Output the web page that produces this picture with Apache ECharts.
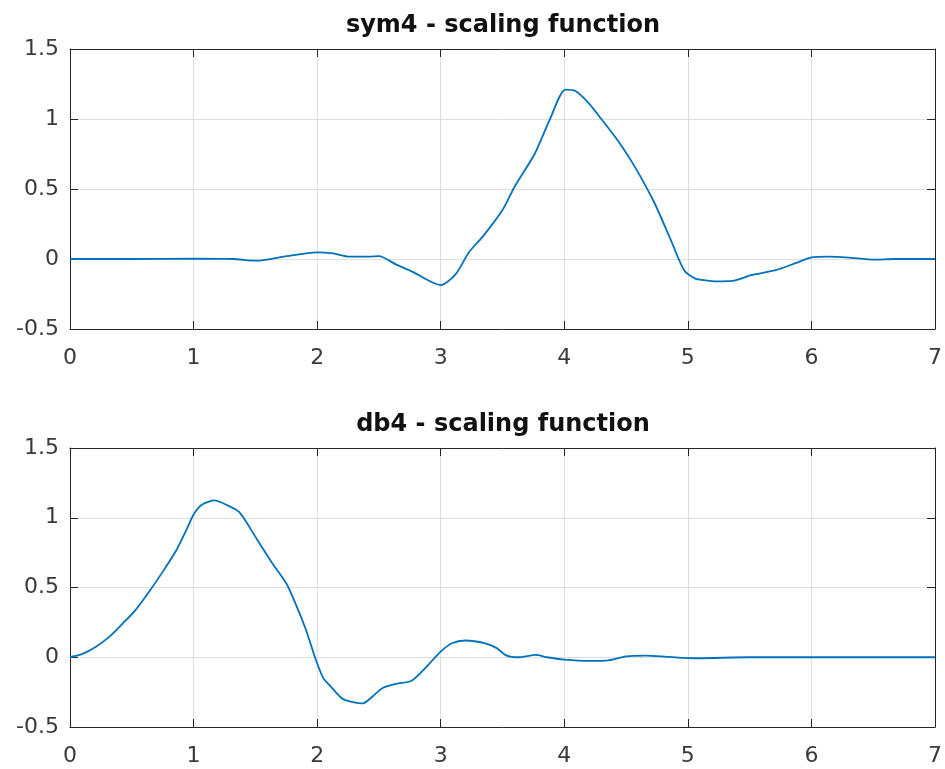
<!DOCTYPE html>
<html>
<head>
<meta charset="utf-8">
<script src="https://cdn.jsdelivr.net/npm/echarts@6/dist/echarts.min.js"></script>
<style>html,body{margin:0;padding:0;background:#fff;}#c{width:945px;height:769px;}</style>
</head>
<body>
<div id="c"></div>
<script>
var titles = ['sym4 - scaling function', 'db4 - scaling function'];
var xTicks = [0, 1, 2, 3, 4, 5, 6, 7];
var yTicks = [-0.5, 0, 0.5, 1, 1.5];

var sym4X = [0, 0.5, 1.0, 1.32, 1.51, 1.73, 2.0, 2.13, 2.26, 2.42, 2.50, 2.64, 2.77, 3.0, 3.12, 3.23, 3.34, 3.50, 3.60, 3.76, 3.88, 4.01, 4.09, 4.19, 4.30, 4.43, 4.57, 4.73, 4.86, 4.97, 5.06, 5.12, 5.23, 5.36, 5.52, 5.71, 5.87, 6.0, 6.14, 6.30, 6.51, 6.67, 7.0];
var sym4Y = [0, 0, 0.003, 0, -0.012, 0.017, 0.048, 0.04, 0.017, 0.017, 0.02, -0.04, -0.09, -0.186, -0.11, 0.05, 0.16, 0.35, 0.52, 0.75, 0.99, 1.21, 1.20, 1.12, 1.00, 0.85, 0.66, 0.40, 0.14, -0.08, -0.14, -0.15, -0.16, -0.157, -0.114, -0.08, -0.03, 0.012, 0.017, 0.01, -0.005, 0, 0];

var db4X = [0, 0.1, 0.21, 0.32, 0.42, 0.53, 0.64, 0.75, 0.86, 0.94, 1.005, 1.07, 1.17, 1.26, 1.37, 1.51, 1.64, 1.75, 1.83, 1.91, 1.99, 2.05, 2.10, 2.21, 2.37, 2.45, 2.53, 2.64, 2.76, 2.85, 3.0, 3.09, 3.20, 3.36, 3.45, 3.53, 3.63, 3.77, 3.86, 4.0, 4.21, 4.34, 4.50, 4.66, 4.85, 5.07, 5.5, 6, 7];
var db4Y = [0, 0.024, 0.076, 0.148, 0.236, 0.338, 0.469, 0.612, 0.767, 0.91, 1.03, 1.095, 1.124, 1.095, 1.04, 0.85, 0.67, 0.53, 0.374, 0.195, -0.02, -0.15, -0.2, -0.30, -0.33, -0.28, -0.22, -0.19, -0.17, -0.10, 0.04, 0.10, 0.12, 0.10, 0.067, 0.014, 0, 0.017, 0, -0.017, -0.026, -0.024, 0.007, 0.012, 0.002, -0.007, 0, 0, 0];

function zip(xs, ys) { return xs.map(function (x, i) { return [x, ys[i]]; }); }

var AX = '#262626', GRID = '#dedede', LBL = '#3a3a3a', FONT = 'DejaVu Sans';
var xMin = xTicks[0], xMax = xTicks[xTicks.length - 1];
var yMin = yTicks[0], yMax = yTicks[yTicks.length - 1];

var grids = [
  { left: 70, right: 9, top: 49, height: 280, show: false },
  { left: 70, right: 9, top: 448, height: 279, show: false }
];
var xAxes = [], yAxes = [];
[0, 1].forEach(function (g) {
  xAxes.push({
    type: 'value', gridIndex: g, position: 'bottom', min: xMin, max: xMax, interval: 1,
    axisLine: { show: true, onZero: false, lineStyle: { color: AX, width: 1 } },
    axisTick: { show: true, inside: true, length: 8, lineStyle: { color: AX } },
    axisLabel: { show: true, color: LBL, fontFamily: FONT, fontSize: 22, margin: 18 },
    splitLine: { show: true, lineStyle: { color: GRID, width: 1 } }
  });
  xAxes.push({
    type: 'value', gridIndex: g, position: 'top', min: xMin, max: xMax, interval: 1,
    axisLine: { show: true, onZero: false, lineStyle: { color: AX, width: 1 } },
    axisTick: { show: true, inside: true, length: 8, lineStyle: { color: AX } },
    axisLabel: { show: false }, splitLine: { show: false }
  });
  yAxes.push({
    type: 'value', gridIndex: g, position: 'left', min: yMin, max: yMax, interval: 0.5,
    axisLine: { show: true, onZero: false, lineStyle: { color: AX, width: 1 } },
    axisTick: { show: true, inside: true, length: 8, lineStyle: { color: AX } },
    axisLabel: { show: true, color: LBL, fontFamily: FONT, fontSize: 22, margin: 11, padding: [8, 0, 0, 0] },
    splitLine: { show: true, lineStyle: { color: GRID, width: 1 } }
  });
  yAxes.push({
    type: 'value', gridIndex: g, position: 'right', min: yMin, max: yMax, interval: 0.5,
    axisLine: { show: true, onZero: false, lineStyle: { color: AX, width: 1 } },
    axisTick: { show: true, inside: true, length: 8, lineStyle: { color: AX } },
    axisLabel: { show: false }, splitLine: { show: false }
  });
});

var chart = echarts.init(document.getElementById('c'), null, { renderer: 'canvas' });
chart.setOption({
  animation: false,
  backgroundColor: '#ffffff',
  title: [
    { text: titles[0], left: 503, top: 14, textAlign: 'center', padding: 0,
      textStyle: { fontFamily: FONT, fontWeight: 'bold', fontSize: 24, color: '#111' } },
    { text: titles[1], left: 503, top: 413, textAlign: 'center', padding: 0,
      textStyle: { fontFamily: FONT, fontWeight: 'bold', fontSize: 24, color: '#111' } }
  ],
  grid: grids,
  xAxis: xAxes,
  yAxis: yAxes,
  series: [
    { type: 'line', xAxisIndex: 0, yAxisIndex: 0, data: zip(sym4X, sym4Y), showSymbol: false,
      smooth: 0.25, lineStyle: { color: '#0072BD', width: 1.8 }, itemStyle: { color: '#0072BD' } },
    { type: 'line', xAxisIndex: 2, yAxisIndex: 2, data: zip(db4X, db4Y), showSymbol: false,
      smooth: 0.25, lineStyle: { color: '#0072BD', width: 1.8 }, itemStyle: { color: '#0072BD' } }
  ]
});
</script>
</body>
</html>
